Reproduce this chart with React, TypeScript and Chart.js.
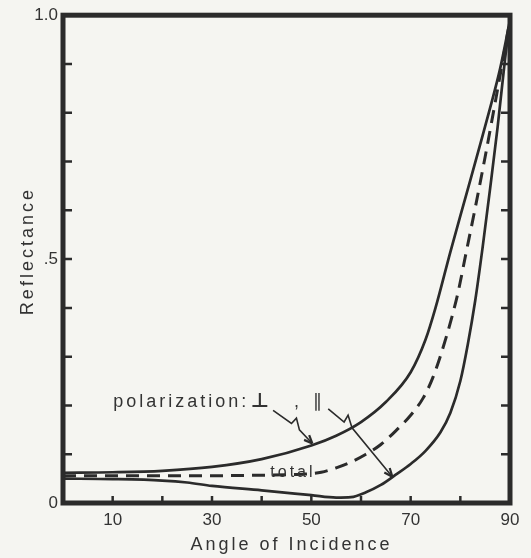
import React, { useEffect, useRef } from 'react';
import { Chart, registerables } from 'chart.js';

Chart.register(...registerables);

// ---- data ----
const perpAngles = [0, 10, 20, 30, 40, 50, 55, 60, 65, 70, 73, 75, 78, 81, 84, 86, 88, 90];
const perpValues = [0.062, 0.063, 0.066, 0.074, 0.09, 0.118, 0.138, 0.166, 0.207, 0.268, 0.335, 0.4, 0.515, 0.625, 0.735, 0.81, 0.89, 0.99];

const parAngles = [0, 10, 20, 25, 30, 40, 50, 55, 58, 61, 64, 67, 70, 73, 76, 78, 80, 81.5, 83, 84.5, 86, 87.5, 89, 90];
const parValues = [0.05, 0.049, 0.046, 0.042, 0.035, 0.026, 0.016, 0.011, 0.012, 0.022, 0.037, 0.058, 0.08, 0.107, 0.145, 0.185, 0.25, 0.325, 0.415, 0.525, 0.645, 0.77, 0.91, 0.99];

const totalAngles = [0, 10, 20, 30, 40, 48, 52, 55, 58, 61, 64, 67, 70, 72.5, 74.5, 77.3, 79.5, 81.1, 83, 85, 87, 90];
const totalValues = [0.056, 0.056, 0.056, 0.056, 0.057, 0.059, 0.063, 0.072, 0.084, 0.1, 0.12, 0.148, 0.18, 0.215, 0.258, 0.345, 0.43, 0.51, 0.605, 0.71, 0.82, 0.99];

const xLabelValues = [10, 30, 50, 70, 90];
const yLabelValues = [0, 0.5, 1.0];
const yLabelTexts = ['0', '.5', '1.0'];

const xTitle = 'Angle of Incidence';
const yTitle = 'Reflectance';

// annotation anchors (angle, reflectance)
const labelPolarization = { text: 'polarization:', x: 10.1, y: 0.197 };
const labelPerp = { text: '⊥', x: 39.9, y: 0.197 };
const labelComma = { text: ',', x: 47.3, y: 0.197 };
const labelPar = { text: '∥', x: 51.5, y: 0.197 };
const labelTotal = { text: 'total', x: 46.3, y: 0.053 };
const arrowPerpX = [42.3, 46.0, 47.0, 47.6, 50.2];
const arrowPerpY = [0.19, 0.163, 0.174, 0.15, 0.122];
const arrowParX = [53.4, 56.6, 57.4, 58.2, 66.3];
const arrowParY = [0.193, 0.166, 0.18, 0.154, 0.054];

const INK = '#2b2b2b';
const TEXT = '#333333';
const FONT = "'Liberation Sans', Arial, 'DejaVu Sans', sans-serif";

const toPts = (xs: number[], ys: number[]) => xs.map((x, i) => ({ x, y: ys[i] }));

const decorPlugin = {
  id: 'decor',
  beforeDraw(chart: any) {
    const { ctx, width, height } = chart;
    ctx.save();
    ctx.fillStyle = '#f5f5f1';
    ctx.fillRect(0, 0, width, height);
    ctx.restore();
  },
  afterDraw(chart: any) {
    const { ctx, chartArea: a, scales } = chart;
    const xs = scales.x;
    const ys = scales.y;
    ctx.save();
    ctx.strokeStyle = INK;
    // inward ticks
    ctx.lineWidth = 2.5;
    ys.ticks.forEach((t: any) => {
      if (t.value <= 0.001 || t.value >= 0.999) return;
      const y = ys.getPixelForValue(t.value);
      ctx.beginPath();
      ctx.moveTo(a.left, y);
      ctx.lineTo(a.left + 9, y);
      ctx.moveTo(a.right, y);
      ctx.lineTo(a.right - 9, y);
      ctx.stroke();
    });
    xs.ticks.forEach((t: any) => {
      if (t.value <= 0.001 || t.value >= 89.999) return;
      const x = xs.getPixelForValue(t.value);
      ctx.beginPath();
      ctx.moveTo(x, a.bottom);
      ctx.lineTo(x, a.bottom - 7);
      ctx.stroke();
    });
    // frame
    ctx.lineWidth = 5;
    ctx.strokeRect(a.left, a.top, a.right - a.left, a.bottom - a.top);

    // arrows
    const drawArrow = (px: number[], py: number[]) => {
      const pts = px.map((v, i) => [xs.getPixelForValue(v), ys.getPixelForValue(py[i])]);
      ctx.lineWidth = 1.6;
      ctx.beginPath();
      pts.forEach((p, i) => (i === 0 ? ctx.moveTo(p[0], p[1]) : ctx.lineTo(p[0], p[1])));
      ctx.stroke();
      const [x1, y1] = pts[pts.length - 2];
      const [x2, y2] = pts[pts.length - 1];
      const ang = Math.atan2(y2 - y1, x2 - x1);
      const L = 9;
      ctx.beginPath();
      ctx.moveTo(x2, y2);
      ctx.lineTo(x2 - L * Math.cos(ang - 0.4), y2 - L * Math.sin(ang - 0.4));
      ctx.moveTo(x2, y2);
      ctx.lineTo(x2 - L * Math.cos(ang + 0.4), y2 - L * Math.sin(ang + 0.4));
      ctx.lineWidth = 2.2;
      ctx.stroke();
    };
    drawArrow(arrowPerpX, arrowPerpY);
    drawArrow(arrowParX, arrowParY);

    // texts
    ctx.fillStyle = TEXT;
    (ctx as any).letterSpacing = '3px';
    ctx.font = `18px ${FONT}`;
    ctx.textBaseline = 'alphabetic';
    ctx.textAlign = 'left';
    ctx.fillText(labelPolarization.text, xs.getPixelForValue(labelPolarization.x), ys.getPixelForValue(labelPolarization.y));
    ctx.textAlign = 'center';
    ctx.font = `bold 20px 'DejaVu Sans', ${FONT}`;
    ctx.fillText(labelPerp.text, xs.getPixelForValue(labelPerp.x), ys.getPixelForValue(labelPerp.y));
    ctx.font = `18px ${FONT}`;
    ctx.fillText(labelComma.text, xs.getPixelForValue(labelComma.x), ys.getPixelForValue(labelComma.y));
    ctx.font = `18px 'DejaVu Sans', ${FONT}`;
    ctx.fillText(labelPar.text, xs.getPixelForValue(labelPar.x), ys.getPixelForValue(labelPar.y));
    ctx.font = `16px ${FONT}`;
    ctx.fillText(labelTotal.text, xs.getPixelForValue(labelTotal.x), ys.getPixelForValue(labelTotal.y));

    // axis titles
    ctx.font = `18px ${FONT}`;
    ctx.textBaseline = 'middle';
    ctx.fillText(xTitle, (a.left + a.right) / 2 + 5, 545);
    ctx.translate(28, (a.top + a.bottom) / 2 - 8);
    ctx.rotate(-Math.PI / 2);
    ctx.fillText(yTitle, 0, 0);
    ctx.restore();
  },
};

export default function App() {
  const ref = useRef<HTMLCanvasElement>(null);
  useEffect(() => {
    if (!ref.current) return;
    const line = (data: any, dash: number[] = []) => ({
      data,
      borderColor: INK,
      borderWidth: dash.length ? 3 : 2.7,
      borderDash: dash,
      pointRadius: 0,
      cubicInterpolationMode: 'monotone' as const,
      fill: false,
    });
    const chart = new Chart(ref.current, {
      type: 'line',
      data: {
        datasets: [
          { label: '⊥', ...line(toPts(perpAngles, perpValues)) },
          { label: '∥', ...line(toPts(parAngles, parValues)) },
          { label: 'total', ...line(toPts(totalAngles, totalValues), [13, 8]) },
        ],
      },
      options: {
        responsive: false,
        animation: false,
        devicePixelRatio: 1,
        layout: { padding: { top: 15, right: 21, left: 0, bottom: 0 } },
        plugins: { legend: { display: false }, tooltip: { enabled: false } },
        scales: {
          x: {
            type: 'linear',
            min: 0,
            max: 90,
            border: { display: false },
            grid: { display: false, drawTicks: false },
            ticks: {
              stepSize: 10,
              autoSkip: false,
              maxRotation: 0,
              padding: 7,
              color: TEXT,
              font: { size: 17, family: FONT },
              callback: (v: any) => (xLabelValues.includes(Math.round(Number(v))) ? String(Math.round(Number(v))) : ''),
            },
            afterFit: (s: any) => {
              s.height = 55;
            },
          },
          y: {
            type: 'linear',
            min: 0,
            max: 1,
            border: { display: false },
            grid: { display: false, drawTicks: false },
            ticks: {
              stepSize: 0.1,
              autoSkip: false,
              padding: 5,
              color: TEXT,
              font: { size: 17, family: FONT },
              callback: (v: any) => {
                const i = yLabelValues.findIndex((u) => Math.abs(u - Number(v)) < 1e-6);
                return i >= 0 ? yLabelTexts[i] : '';
              },
            },
            afterFit: (s: any) => {
              s.width = 63;
            },
          },
        },
      },
      plugins: [decorPlugin],
    });
    return () => chart.destroy();
  }, []);
  return (
    <div style={{ position: 'absolute', left: 0, top: 0, width: 531, height: 558 }}>
      <canvas ref={ref} width={531} height={558} style={{ display: 'block' }} />
    </div>
  );
}
